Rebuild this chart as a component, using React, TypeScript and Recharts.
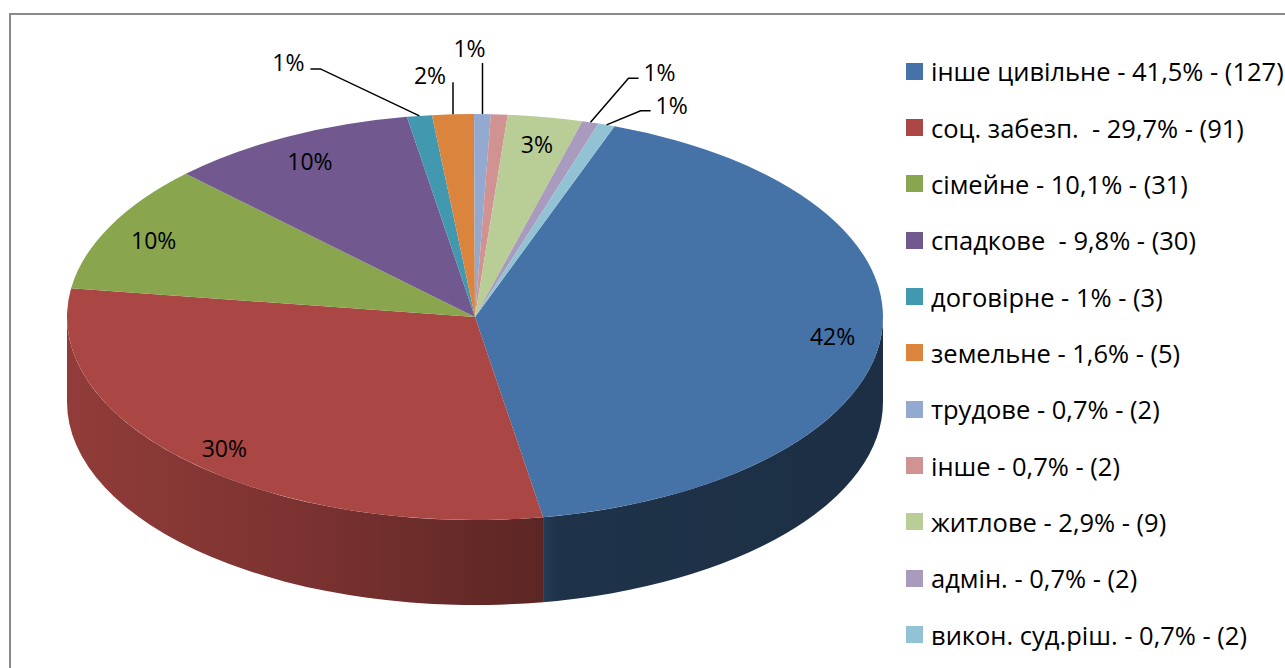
import React from "react";
import { PieChart, Pie, Cell, Legend } from "recharts";

const categories = [
  "інше цивільне",
  "соц. забезп. ",
  "сімейне",
  "спадкове ",
  "договірне",
  "земельне",
  "трудове",
  "інше",
  "житлове",
  "адмін.",
  "викон. суд.ріш.",
];
const shares = ["41,5%", "29,7%", "10,1%", "9,8%", "1%", "1,6%", "0,7%", "0,7%", "2,9%", "0,7%", "0,7%"];
const counts = [127, 91, 31, 30, 3, 5, 2, 2, 9, 2, 2];

const colors = [
  "#4572A7", "#AA4643", "#89A54E", "#71588F", "#4198AF", "#DB843D",
  "#93A9CF", "#D19392", "#B9CD96", "#A99BBD", "#92C3D4",
];

// where each percent label goes: inside the slice, on a leader line (offsets from the rim), or hidden
type Leader = { k: [number, number]; e: [number, number]; t: [number, number] };
const labelPlace: ("in" | Leader | null)[] = [
  "in", "in", "in", "in",
  { k: [-99, -47], e: [-109, -47], t: [-131, -54] },
  { k: [0, -32], e: [0, -32], t: [-23, -39] },
  { k: [0, -51], e: [0, -51], t: [-13, -66] },
  null,
  "in",
  { k: [38, -44], e: [48, -44], t: [69, -50] },
  { k: [34, -14], e: [44, -14], t: [65, -20] },
];

const data = categories.map((c, i) => ({ name: `${c} - ${shares[i]} - (${counts[i]})`, value: counts[i] }));

const TILT = 0.4975;
const DEPTH = 85;
const RAD = Math.PI / 180;
const FONT = "'Open Sans', 'Noto Sans', sans-serif";

const shade = (hex: string, f: number) => {
  const n = parseInt(hex.slice(1), 16);
  const c = [(n >> 16) & 255, (n >> 8) & 255, n & 255].map((v) => Math.round(v * f));
  return `rgb(${c[0]},${c[1]},${c[2]})`;
};

const renderSlice = (props: any) => {
  const { cx, cy, outerRadius, startAngle, endAngle, midAngle, percent, index } = props;
  const rx = outerRadius;
  const ry = outerRadius * TILT;
  const px = (a: number) => cx + rx * Math.cos(a * RAD);
  const py = (a: number, dy = 0) => cy - ry * Math.sin(a * RAD) + dy;
  const pt = (a: number, dy = 0) => `${px(a)},${py(a, dy)}`;
  const s = Math.max(startAngle, endAngle);
  const e = Math.min(startAngle, endAngle);
  const color = colors[index];

  const top = `M${cx},${cy} L${pt(s)} A${rx},${ry} 0 ${s - e > 180 ? 1 : 0} 1 ${pt(e)} Z`;
  const walls: string[] = [];
  [[-540, -360], [-180, 0], [180, 360]].forEach(([a, b]) => {
    const lo = Math.max(e, a);
    const hi = Math.min(s, b);
    if (hi > lo) {
      walls.push(
        `M${pt(hi)} A${rx},${ry} 0 0 1 ${pt(lo)} L${pt(lo, DEPTH)} A${rx},${ry} 0 0 0 ${pt(hi, DEPTH)} Z`
      );
    }
  });

  const place = labelPlace[index];
  const txt = `${Math.round(percent * 100)}%`;
  let label = null;
  if (place === "in") {
    label = (
      <text x={cx + rx * 0.88 * Math.cos(midAngle * RAD)} y={cy - ry * 0.88 * Math.sin(midAngle * RAD) + 3}
        textAnchor="middle" dominantBaseline="central" fill="#000" fontSize={23} fontFamily={FONT}>
        {txt}
      </text>
    );
  } else if (place) {
    const ax = px(midAngle);
    const ay = py(midAngle);
    label = (
      <g>
        <polyline
          points={`${ax},${ay} ${ax + place.k[0]},${ay + place.k[1]} ${ax + place.e[0]},${ay + place.e[1]}`}
          fill="none" stroke="#000" strokeWidth={1.5} />
        <text x={ax + place.t[0]} y={ay + place.t[1]} textAnchor="middle" dominantBaseline="central"
          fill="#000" fontSize={23} fontFamily={FONT}>
          {txt}
        </text>
      </g>
    );
  }

  return (
    <g key={`slice-${index}`}>
      <defs>
        <linearGradient id={`wall-${index}`} gradientUnits="userSpaceOnUse" x1={cx - rx} y1={0} x2={cx + rx} y2={0}>
          <stop offset="0" stopColor={shade(color, 0.85)} />
          <stop offset="0.3" stopColor={shade(color, 0.72)} />
          <stop offset="0.58" stopColor={shade(color, 0.54)} />
          <stop offset="0.6" stopColor={shade(color, 0.44)} />
          <stop offset="1" stopColor={shade(color, 0.41)} />
        </linearGradient>
      </defs>
      {walls.map((d, j) => (
        <path key={j} d={d} fill={`url(#wall-${index})`} stroke="none" />
      ))}
      <path d={top} fill={color} stroke="none" />
      {label}
    </g>
  );
};

// legend keeps the data order (Recharts would sort it by name)
const LegendList = () => (
  <div style={{ fontFamily: FONT }}>
    {data.map((d, i) => (
      <div key={d.name} style={{ height: 56.35, display: "flex", alignItems: "center" }}>
        <span style={{ width: 17, height: 17, background: colors[i], display: "inline-block", flex: "none" }} />
        <span style={{ marginLeft: 8, fontSize: 25.5, color: "#000", whiteSpace: "pre" }}>{d.name}</span>
      </div>
    ))}
  </div>
);

export default function App() {
  return (
    <div style={{ position: "absolute", left: 0, top: 0, width: 1285, height: 668, overflow: "hidden", background: "#fff" }}>
      <div style={{ position: "absolute", left: 9, top: 13, width: 1300, height: 700, border: "2px solid #8a8a8a" }} />
      <div style={{ position: "absolute", left: 0, top: 0 }}>
        <PieChart width={1285} height={668} margin={{ top: 0, right: 0, bottom: 0, left: 0 }}>
          <Pie
            data={data}
            dataKey="value"
            nameKey="name"
            cx={475}
            cy={317}
            outerRadius={408}
            startAngle={70}
            endAngle={-290}
            fillOpacity={0}
            stroke="none"
            label={renderSlice}
            labelLine={false}
            isAnimationActive={false}
          >
            {data.map((d, i) => (
              <Cell key={d.name} fill={colors[i]} />
            ))}
          </Pie>
          <Legend
            layout="vertical"
            align="right"
            verticalAlign="top"
            content={LegendList}
            wrapperStyle={{ left: 906, top: 43, width: 400 }}
          />
        </PieChart>
      </div>
    </div>
  );
}
